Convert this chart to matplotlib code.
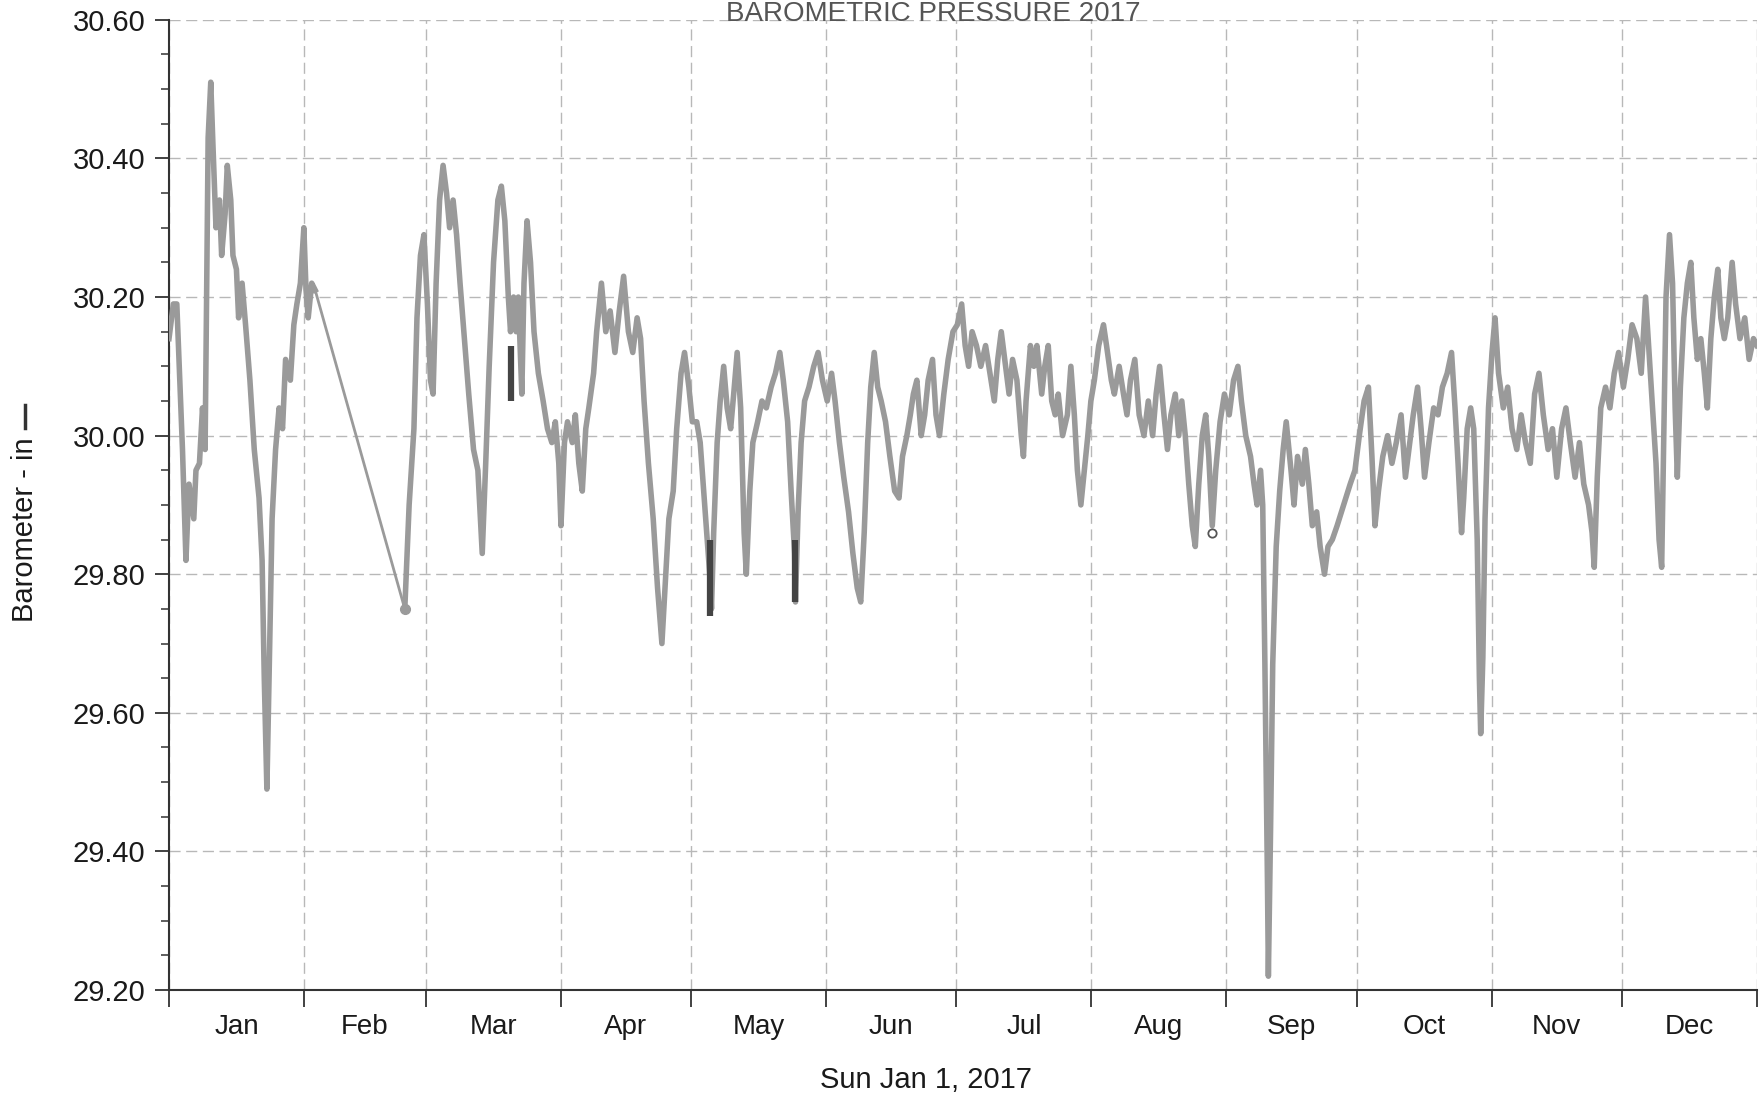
"""Barometric pressure 2017 - recreated from a scanned printout"""

import numpy as np
import matplotlib
matplotlib.use('Agg')
from matplotlib import pyplot as plt
from matplotlib.ticker import MultipleLocator, FixedLocator, NullFormatter
from matplotlib.lines import Line2D

plt.rcParams['font.family'] = ['Liberation Sans', 'DejaVu Sans']

months = ['Jan', 'Feb', 'Mar', 'Apr', 'May', 'Jun',
          'Jul', 'Aug', 'Sep', 'Oct', 'Nov', 'Dec']
month_days = [31, 28, 31, 30, 31, 30, 31, 31, 30, 31, 30, 31]

# day of year (0 = Jan 1) and pressure in inHg
days = [
    0.0, 1.0, 1.8, 3.1, 3.9, 4.6, 5.7, 6.2, 7.0, 7.7, 8.3, 9.0, 9.6, 10.1,
    10.8, 11.6, 12.1, 12.9, 13.4, 14.2, 14.7, 15.5, 16.0, 16.8, 17.6, 18.6,
    19.6, 20.7, 21.4, 21.9, 22.5, 23.0, 23.7, 24.5, 25.3, 26.1, 26.8, 27.9,
    28.7, 29.4, 30.2, 31.0, 31.5, 32.0, 32.8, 33.6,
    54.2, 55.2, 56.3, 57.0, 57.8, 58.6, 59.4, 60.1, 60.7, 61.4, 62.2, 63.0,
    63.8, 64.5, 65.3, 66.1, 66.9, 67.9, 68.9, 70.0, 71.0, 72.0, 72.8, 73.6,
    74.6, 75.6, 76.4, 77.2, 78.0, 78.5, 79.2, 79.8, 80.3, 81.1, 81.6, 82.3,
    83.1, 83.9, 84.9, 86.0, 87.0, 88.0, 88.8, 89.6, 90.1, 90.9, 91.6, 92.7,
    93.4, 94.2, 95.0, 95.8, 96.5, 97.6, 98.3, 99.4, 100.4, 101.4, 102.5,
    103.5, 104.5, 105.6, 106.6, 107.6, 108.4, 109.2, 110.2, 111.3, 112.3,
    113.3, 114.1, 114.9, 115.9, 116.7, 117.7, 118.5, 119.5, 120.3, 121.3,
    122.1, 122.9, 123.6, 124.4, 124.7, 125.2, 126.0, 126.7, 127.5, 128.3,
    129.1, 129.8, 130.6, 131.4, 132.2, 132.7, 133.5, 134.2, 135.3, 136.3,
    137.3, 138.4, 139.4, 140.4, 141.2, 142.2, 143.0, 143.8, 144.0, 144.6,
    145.3, 146.1, 147.1, 148.2, 149.2, 150.2, 151.3, 152.3, 153.1, 154.1,
    155.1, 156.2, 157.2, 158.2, 159.0, 159.8, 160.6, 161.3, 162.1, 162.9,
    163.7, 164.7, 165.7, 166.8, 167.8, 168.6, 169.6, 170.4, 171.1, 171.9,
    172.9, 173.7, 174.5, 175.5, 176.3, 177.1, 178.1, 179.1, 180.2, 181.2,
    182.2, 183.0, 183.8, 184.6, 185.6, 186.6, 187.7, 188.7, 189.7, 190.5,
    191.3, 192.1, 193.1, 193.9, 194.9, 195.9, 196.4, 197.0, 198.0, 198.8,
    199.5, 200.6, 201.3, 202.1, 202.9, 203.7, 204.4, 205.4, 206.5, 207.3,
    208.1, 208.8, 209.6, 210.4, 211.2, 211.9, 212.7, 213.7, 214.8, 215.5,
    216.6, 217.3, 218.4, 219.4, 220.2, 221.0, 222.0, 223.0, 224.1, 225.1,
    226.1, 226.9, 227.7, 228.7, 229.5, 230.3, 231.3, 232.1, 232.8, 233.6,
    234.4, 235.2, 235.9, 236.7, 237.5, 238.3, 239.0, 239.8, 240.6, 241.6,
    242.6, 243.7, 244.7, 245.7, 246.5, 247.5, 248.6, 249.4, 250.1, 250.9,
    251.4, 251.9, 252.5, 252.7, 253.2, 253.7, 254.5, 255.3, 256.1, 256.8,
    257.9, 258.6, 259.4, 260.5, 261.2, 262.0, 262.8, 263.8, 264.6, 265.6,
    266.4, 267.4, 268.5, 269.5, 270.5, 271.5, 272.6, 273.6, 274.7, 275.7,
    276.5, 277.2, 278.0, 279.0, 280.1, 281.1, 282.1, 283.2, 284.2, 285.0,
    286.0, 287.0, 287.8, 288.6, 289.6, 290.7, 291.7, 292.7, 293.8, 294.8,
    295.6, 296.3, 297.1, 297.6, 298.4, 299.2, 299.9, 300.7, 301.2, 301.5,
    302.0, 302.5, 303.3, 304.1, 304.8, 305.6, 306.7, 307.7, 308.7, 309.8,
    310.8, 311.8, 312.9, 313.9, 314.9, 315.9, 317.0, 318.0, 319.0, 320.1,
    321.1, 322.1, 323.2, 324.2, 325.2, 326.3, 327.1, 327.6, 328.3, 329.1,
    330.2, 331.2, 332.2, 333.2, 334.3, 335.3, 336.3, 337.4, 338.4, 339.4,
    340.2, 341.0, 341.8, 342.5, 343.1, 343.6, 344.1, 344.9, 345.6, 346.2,
    346.7, 347.4, 348.2, 349.0, 349.8, 350.5, 351.3, 352.1, 352.9, 353.6,
    354.4, 355.2, 356.0, 356.7, 357.5, 358.3, 359.3, 360.1, 361.1, 362.2,
    363.2, 364.2, 365.0,
]
pressure = [
    30.14, 30.19, 30.19, 29.98, 29.82, 29.93, 29.88, 29.95, 29.96, 30.04,
    29.98, 30.43, 30.51, 30.42, 30.30, 30.34, 30.26, 30.32, 30.39, 30.34,
    30.26, 30.24, 30.17, 30.22, 30.16, 30.08, 29.98, 29.91, 29.82, 29.65,
    29.49, 29.65, 29.88, 29.98, 30.04, 30.01, 30.11, 30.08, 30.16, 30.19,
    30.22, 30.30, 30.21, 30.17, 30.22, 30.21,
    29.75, 29.90, 30.01, 30.17, 30.26, 30.29, 30.19, 30.08, 30.06, 30.22,
    30.34, 30.39, 30.35, 30.30, 30.34, 30.29, 30.22, 30.14, 30.06, 29.98,
    29.95, 29.83, 29.96, 30.10, 30.25, 30.34, 30.36, 30.31, 30.20, 30.15,
    30.20, 30.15, 30.20, 30.06, 30.22, 30.31, 30.25, 30.15, 30.09, 30.05,
    30.01, 29.99, 30.02, 29.96, 29.87, 29.99, 30.02, 29.99, 30.03, 29.96,
    29.92, 30.01, 30.04, 30.09, 30.15, 30.22, 30.15, 30.18, 30.12, 30.18,
    30.23, 30.15, 30.12, 30.17, 30.14, 30.05, 29.96, 29.88, 29.78, 29.70,
    29.79, 29.88, 29.92, 30.01, 30.09, 30.12, 30.07, 30.02, 30.02, 29.99,
    29.92, 29.86, 29.79, 29.75, 29.86, 29.99, 30.05, 30.10, 30.04, 30.01,
    30.06, 30.12, 30.04, 29.86, 29.80, 29.92, 29.99, 30.02, 30.05, 30.04,
    30.07, 30.09, 30.12, 30.08, 30.02, 29.92, 29.83, 29.76, 29.89, 29.99,
    30.05, 30.07, 30.10, 30.12, 30.08, 30.05, 30.09, 30.05, 29.99, 29.94,
    29.89, 29.83, 29.78, 29.76, 29.86, 29.99, 30.07, 30.12, 30.07, 30.05,
    30.02, 29.97, 29.92, 29.91, 29.97, 30.00, 30.03, 30.06, 30.08, 30.00,
    30.03, 30.08, 30.11, 30.03, 30.00, 30.06, 30.11, 30.15, 30.16, 30.19,
    30.13, 30.10, 30.15, 30.13, 30.10, 30.13, 30.09, 30.05, 30.11, 30.15,
    30.11, 30.06, 30.11, 30.08, 30.00, 29.97, 30.05, 30.13, 30.10, 30.13,
    30.06, 30.10, 30.13, 30.05, 30.03, 30.06, 30.00, 30.03, 30.10, 30.03,
    29.95, 29.90, 29.95, 30.00, 30.05, 30.08, 30.13, 30.16, 30.13, 30.08,
    30.06, 30.10, 30.06, 30.03, 30.08, 30.11, 30.03, 30.00, 30.05, 30.00,
    30.06, 30.10, 30.03, 29.98, 30.03, 30.06, 30.00, 30.05, 30.00, 29.93,
    29.87, 29.84, 29.93, 30.00, 30.03, 29.97, 29.87, 29.95, 30.02, 30.06,
    30.03, 30.08, 30.10, 30.05, 30.00, 29.97, 29.93, 29.90, 29.95, 29.90,
    29.67, 29.35, 29.22, 29.43, 29.67, 29.84, 29.92, 29.98, 30.02, 29.95,
    29.90, 29.97, 29.93, 29.98, 29.93, 29.87, 29.89, 29.84, 29.80, 29.84,
    29.85, 29.87, 29.89, 29.91, 29.93, 29.95, 30.00, 30.05, 30.07, 29.97,
    29.87, 29.92, 29.97, 30.00, 29.96, 29.99, 30.03, 29.94, 29.98, 30.03,
    30.07, 30.01, 29.94, 29.99, 30.04, 30.03, 30.07, 30.09, 30.12, 30.04,
    29.96, 29.86, 29.91, 30.01, 30.04, 30.01, 29.85, 29.65, 29.57, 29.68,
    29.88, 30.04, 30.12, 30.17, 30.09, 30.04, 30.07, 30.01, 29.98, 30.03,
    29.99, 29.96, 30.06, 30.09, 30.03, 29.98, 30.01, 29.94, 30.01, 30.04,
    29.99, 29.94, 29.99, 29.93, 29.90, 29.86, 29.81, 29.94, 30.04, 30.07,
    30.04, 30.09, 30.12, 30.07, 30.11, 30.16, 30.14, 30.09, 30.20, 30.12,
    30.04, 29.96, 29.85, 29.81, 30.01, 30.20, 30.29, 30.22, 30.04, 29.94,
    30.07, 30.17, 30.22, 30.25, 30.17, 30.11, 30.14, 30.09, 30.04, 30.14,
    30.20, 30.24, 30.17, 30.14, 30.17, 30.25, 30.19, 30.14, 30.17, 30.11,
    30.14, 30.13,
]

# short dark sensor segments printed over the gray trace
spike_days = [78.5, 124.4, 143.9]
spike_low = [30.05, 29.74, 29.76]
spike_high = [30.13, 29.85, 29.85]
marker_day, marker_value = 239.8, 29.86

if __name__ == "__main__":
    d = np.array(days)
    p = np.array(pressure)
    gap = int(np.argmax(np.diff(d)))   # the Feb data gap, drawn as a thin line

    fig = plt.figure(figsize=(17.64, 11.02), dpi=100)
    ax = fig.add_axes([0.0958, 0.1016, 0.9002, 0.8804])

    line_color = '#9a9a9a'
    ax.plot(d[:gap + 1], p[:gap + 1], color=line_color, lw=4.0, zorder=3)
    ax.plot(d[gap:gap + 2], p[gap:gap + 2], color=line_color, lw=2.0, zorder=3)
    ax.plot(d[gap + 1:], p[gap + 1:], color=line_color, lw=4.0, zorder=3)
    ax.plot(d[gap + 1], p[gap + 1], 'o', color=line_color, ms=7, zorder=3)
    ax.vlines(spike_days, spike_low, spike_high, color='#444444', lw=4.5, zorder=4)
    ax.plot(marker_day, marker_value, 'o', mfc='none', mec='#555555', ms=6,
            mew=1.3, zorder=4)

    month_starts = np.concatenate([[0], np.cumsum(month_days)])
    month_mids = (month_starts[:-1] + month_starts[1:]) / 2

    ax.set_xlim(0, 365)
    ax.set_ylim(29.2, 30.6)
    ax.xaxis.set_major_locator(FixedLocator(month_starts))
    ax.xaxis.set_major_formatter(NullFormatter())
    ax.xaxis.set_minor_locator(FixedLocator(month_mids))
    ax.set_xticklabels(months, minor=True)
    ax.yaxis.set_major_locator(MultipleLocator(0.2))
    ax.yaxis.set_minor_locator(MultipleLocator(0.05))
    ax.yaxis.set_major_formatter(plt.FormatStrFormatter('%.2f'))

    ax.grid(True, which='major', color='#b8b8b8', lw=1.0,
            linestyle=(0, (8, 4)), zorder=0)
    ax.set_axisbelow(True)

    for side in ('top', 'right'):
        ax.spines[side].set_visible(False)
    for side in ('left', 'bottom'):
        ax.spines[side].set_color('#333333')
        ax.spines[side].set_linewidth(1.5)

    ax.tick_params(axis='y', which='major', direction='out', length=10,
                   width=1.3, pad=7, labelsize=21, color='#333333',
                   labelcolor='#1a1a1a')
    ax.tick_params(axis='y', which='minor', direction='out', length=6,
                   width=1.1, color='#333333')
    ax.tick_params(axis='x', which='major', direction='out', length=12,
                   width=1.3, color='#333333')
    ax.tick_params(axis='x', which='minor', length=0, pad=17, labelsize=20,
                   labelcolor='#1a1a1a')

    # title sits right at the top edge, as on the printout
    fig.text(0.529, 0.999, 'BAROMETRIC PRESSURE 2017', ha='center',
             va='top', fontsize=20, color='#555555')
    fig.text(0.525, 0.020, 'Sun Jan 1, 2017', ha='center', va='center',
             fontsize=21, color='#1a1a1a')
    fig.text(0.0142, 0.519, 'Barometer - in', rotation=90, ha='center',
             va='center', fontsize=21, color='#1a1a1a')
    fig.add_artist(Line2D([0.0142, 0.0142], [0.6116, 0.6325],
                          transform=fig.transFigure, color='#333333', lw=2.5))

    plt.savefig('out.png', dpi=100)
